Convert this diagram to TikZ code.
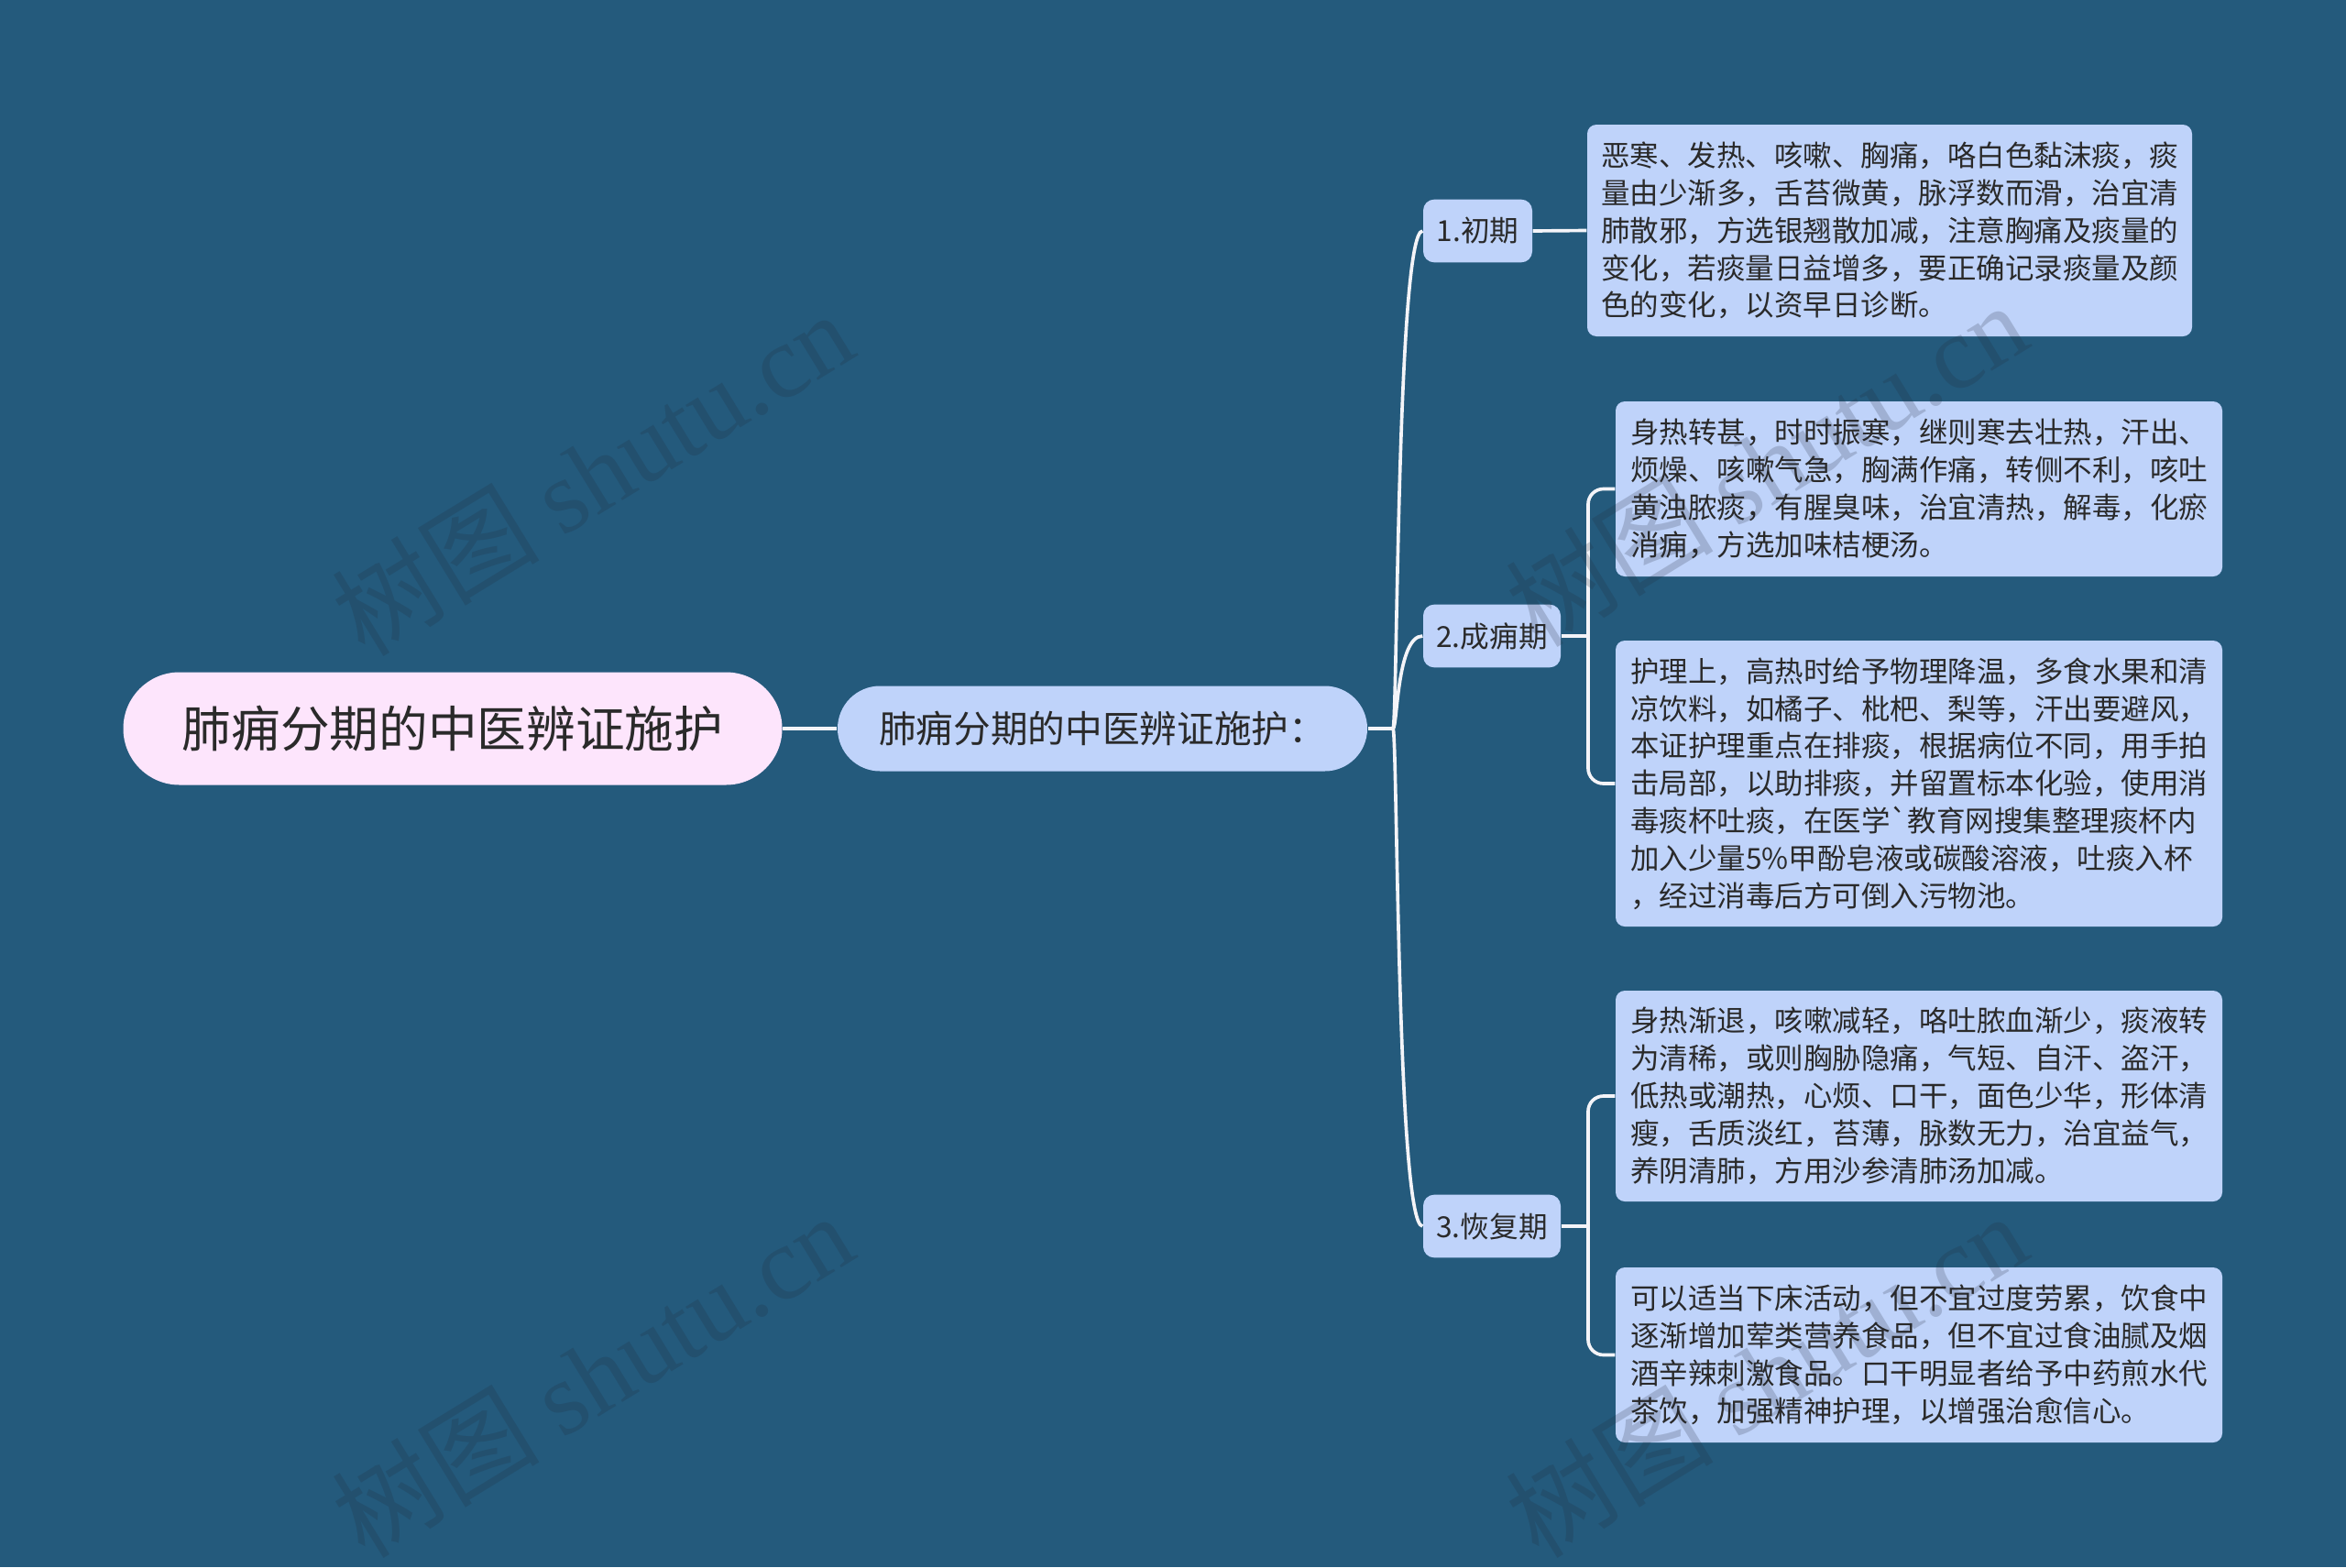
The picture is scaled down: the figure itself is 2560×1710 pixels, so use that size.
\documentclass[tikz,border=0pt]{standalone}
\usepackage{fontspec}
\setmainfont{Noto Sans CJK SC}
\newfontfamily\wmserif{Liberation Serif}
\definecolor{bg}{HTML}{245A7C}
\definecolor{leafc}{HTML}{BFD3FA}
\definecolor{rootc}{HTML}{FDE5FC}
\definecolor{txt}{HTML}{2A2A2A}
\definecolor{linec}{HTML}{F4F4F8}
\definecolor{wmc}{HTML}{202838}
\tikzset{
  base/.style={inner sep=0pt, text=txt, align=center},
  rootbox/.style={base, fill=rootc, rounded corners=18.4pt, minimum width=215.7pt, minimum height=36.9pt, font=\fontsize{16.1pt}{18pt}\selectfont},
  secbox/.style={base, fill=leafc, rounded corners=13.9pt, minimum width=173.4pt, minimum height=27.9pt, font=\fontsize{12.2pt}{14pt}\selectfont},
  stagebox/.style={base, fill=leafc, rounded corners=3.6pt, minimum height=20.6pt, font=\fontsize{9.5pt}{11pt}\selectfont},
  leafbox/.style={base, align=left, fill=leafc, rounded corners=3pt, minimum width=198.6pt, font=\fontsize{9.45pt}{12.25pt}\selectfont},
  conn/.style={draw=linec, line width=1.1pt},
  wmark/.style={rotate=31.5, text=wmc, opacity=0.2, font=\fontsize{34pt}{36pt}\selectfont}
}
\begin{document}
\begin{tikzpicture}[x=0.3pt,y=-0.3pt]
\fill[bg] (0,0) rectangle (2560,1710);
\useasboundingbox (0,0) rectangle (2560,1710);

% nodes
\node[rootbox] (root) at (494,795) {肺痈分期的中医辨证施护};
\node[secbox] (sec) at (1203,795) {肺痈分期的中医辨证施护：};
\node[stagebox, minimum width=35.7pt] (s1) at (1612.5,252) {1.初期};
\node[stagebox, minimum width=45pt] (s2) at (1628,694) {2.成痈期};
\node[stagebox, minimum width=45pt] (s3) at (1628,1338) {3.恢复期};

\node[leafbox, minimum width=198pt, minimum height=69.3pt] (l1) at (2062,251.5) {恶寒、发热、咳嗽、胸痛，咯白色黏沫痰，痰\\量由少渐多，舌苔微黄，脉浮数而滑，治宜清\\肺散邪，方选银翘散加减，注意胸痛及痰量的\\变化，若痰量日益增多，要正确记录痰量及颜\\色的变化，以资早日诊断。};
\node[leafbox, minimum height=57.3pt] (l2a) at (2094,533.5) {身热转甚，时时振寒，继则寒去壮热，汗出、\\烦燥、咳嗽气急，胸满作痛，转侧不利，咳吐\\黄浊脓痰，有腥臭味，治宜清热，解毒，化瘀\\消痈，方选加味桔梗汤。};
\node[leafbox, minimum height=93.6pt] (l2b) at (2094,855) {护理上，高热时给予物理降温，多食水果和清\\凉饮料，如橘子、枇杷、梨等，汗出要避风，\\本证护理重点在排痰，根据病位不同，用手拍\\击局部，以助排痰，并留置标本化验，使用消\\毒痰杯吐痰，在医学\textasciigrave 教育网搜集整理痰杯内\\加入少量5\%甲酚皂液或碳酸溶液，吐痰入杯\\，经过消毒后方可倒入污物池。};
\node[leafbox, minimum height=69pt] (l3a) at (2094,1196) {身热渐退，咳嗽减轻，咯吐脓血渐少，痰液转\\为清稀，或则胸胁隐痛，气短、自汗、盗汗，\\低热或潮热，心烦、口干，面色少华，形体清\\瘦，舌质淡红，苔薄，脉数无力，治宜益气，\\养阴清肺，方用沙参清肺汤加减。};
\node[leafbox, minimum height=57.3pt] (l3b) at (2094,1478.5) {可以适当下床活动，但不宜过度劳累，饮食中\\逐渐增加荤类营养食品，但不宜过食油腻及烟\\酒辛辣刺激食品。口干明显者给予中药煎水代\\茶饮，加强精神护理，以增强治愈信心。};

% connectors
\coordinate (t) at (1520,795);
\coordinate (b2) at (1733,694);
\coordinate (b3) at (1733,1338);
\draw[conn] (root.east) -- (sec.west);
\draw[conn] (sec.east) -- (t);
\draw[conn] (t) .. controls (1525,795) and (1524,252) .. (s1.west);
\draw[conn] (t) .. controls (1525,795) and (1524,694) .. (s2.west);
\draw[conn] (t) .. controls (1525,795) and (1524,1338) .. (s3.west);
\draw[conn] (s1.east) -- (l1.west);
\draw[conn] (s2.east) -- (b2);
\draw[conn, rounded corners=5pt] (l2a.west) -| (b2) |- (l2b.west);
\draw[conn] (s3.east) -- (b3);
\draw[conn, rounded corners=5pt] (l3a.west) -| (b3) |- (l3b.west);

% watermarks
\node[wmark] (wm1) at (646,516) {树图 {\wmserif shutu.cn}};
\node[wmark] (wm2) at (1927,506) {树图 {\wmserif shutu.cn}};
\node[wmark] (wm3) at (646,1500) {树图 {\wmserif shutu.cn}};
\node[wmark] (wm4) at (1927,1500) {树图 {\wmserif shutu.cn}};
\end{tikzpicture}
\end{document}
